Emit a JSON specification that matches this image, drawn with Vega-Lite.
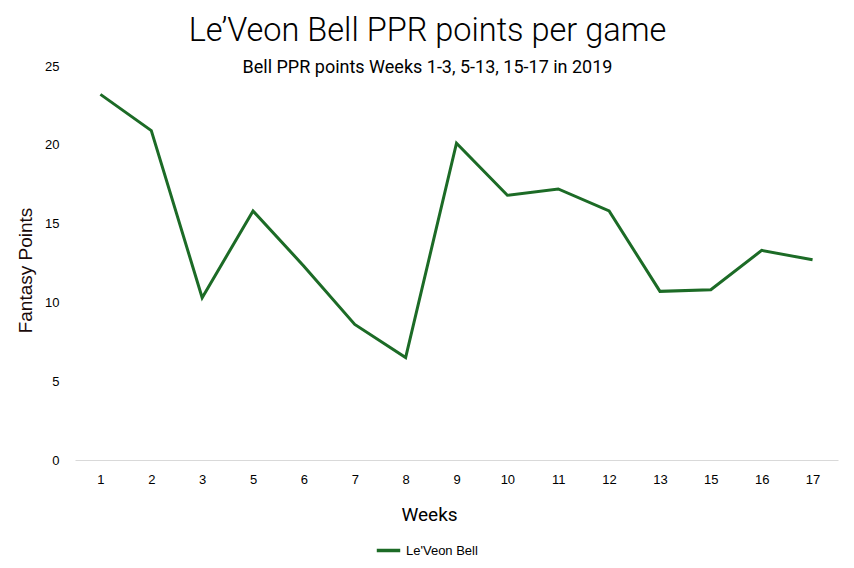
{
  "$schema": "https://vega.github.io/schema/vega-lite/v6.json",
  "width": 763,
  "height": 394,
  "autosize": {"type": "none"},
  "padding": {"left": 75, "top": 66, "right": 16, "bottom": 108},
  "background": "white",
  "config": {"view": {"stroke": null}},
  "title": {
    "text": "Le’Veon Bell PPR points per game",
    "subtitle": "Bell PPR points Weeks 1-3, 5-13, 15-17 in 2019",
    "font": "Roboto",
    "fontSize": 32.5,
    "fontWeight": 300,
    "color": "#000000",
    "subtitleFont": "Roboto",
    "subtitleFontSize": 18,
    "subtitleFontWeight": "normal",
    "subtitleColor": "#000000",
    "subtitlePadding": 12,
    "anchor": "middle",
    "dx": -29,
    "offset": -17
  },
  "data": {
    "values": [
      {"week": "1", "points": 23.2, "player": "Le'Veon Bell"},
      {"week": "2", "points": 20.9, "player": "Le'Veon Bell"},
      {"week": "3", "points": 10.3, "player": "Le'Veon Bell"},
      {"week": "5", "points": 15.8, "player": "Le'Veon Bell"},
      {"week": "6", "points": 12.3, "player": "Le'Veon Bell"},
      {"week": "7", "points": 8.6, "player": "Le'Veon Bell"},
      {"week": "8", "points": 6.5, "player": "Le'Veon Bell"},
      {"week": "9", "points": 20.1, "player": "Le'Veon Bell"},
      {"week": "10", "points": 16.8, "player": "Le'Veon Bell"},
      {"week": "11", "points": 17.2, "player": "Le'Veon Bell"},
      {"week": "12", "points": 15.8, "player": "Le'Veon Bell"},
      {"week": "13", "points": 10.7, "player": "Le'Veon Bell"},
      {"week": "15", "points": 10.8, "player": "Le'Veon Bell"},
      {"week": "16", "points": 13.3, "player": "Le'Veon Bell"},
      {"week": "17", "points": 12.7, "player": "Le'Veon Bell"}
    ]
  },
  "mark": {"type": "line", "strokeWidth": 3, "strokeJoin": "miter"},
  "encoding": {
    "x": {
      "field": "week",
      "type": "ordinal",
      "sort": null,
      "scale": {"paddingInner": 0, "paddingOuter": 0.5},
      "axis": {
        "title": "Weeks",
        "titleFont": "Roboto",
        "titleFontSize": 19,
        "titleFontWeight": "normal",
        "titleColor": "#000000",
        "titleX": 354,
        "titleY": 54,
        "titleBaseline": "middle",
        "labelAngle": 0,
        "labelFont": "Liberation Sans",
        "labelFontSize": 13,
        "labelColor": "#000000",
        "labelPadding": 13,
        "ticks": false,
        "domainColor": "#d9d9d9",
        "domainWidth": 1,
        "grid": false
      }
    },
    "y": {
      "field": "points",
      "type": "quantitative",
      "scale": {"domain": [0, 25]},
      "axis": {
        "title": "Fantasy Points",
        "titleFont": "Liberation Sans",
        "titleFontSize": 19,
        "titleFontWeight": "normal",
        "titleColor": "#1a0a0a",
        "titleAngle": -90,
        "titleX": -50,
        "titleY": 204,
        "titleBaseline": "middle",
        "values": [0, 5, 10, 15, 20, 25],
        "labelFont": "Liberation Sans",
        "labelFontSize": 13,
        "labelColor": "#000000",
        "labelPadding": 16,
        "ticks": false,
        "domain": false,
        "grid": false
      }
    },
    "color": {
      "field": "player",
      "type": "nominal",
      "scale": {"range": ["#1c6b26"]},
      "legend": {
        "title": null,
        "orient": "none",
        "legendX": 300,
        "legendY": 471,
        "symbolType": "stroke",
        "symbolStrokeWidth": 3.5,
        "symbolSize": 550,
        "labelFont": "Liberation Sans",
        "labelFontSize": 13,
        "labelColor": "#000000",
        "labelOffset": 4
      }
    }
  }
}
